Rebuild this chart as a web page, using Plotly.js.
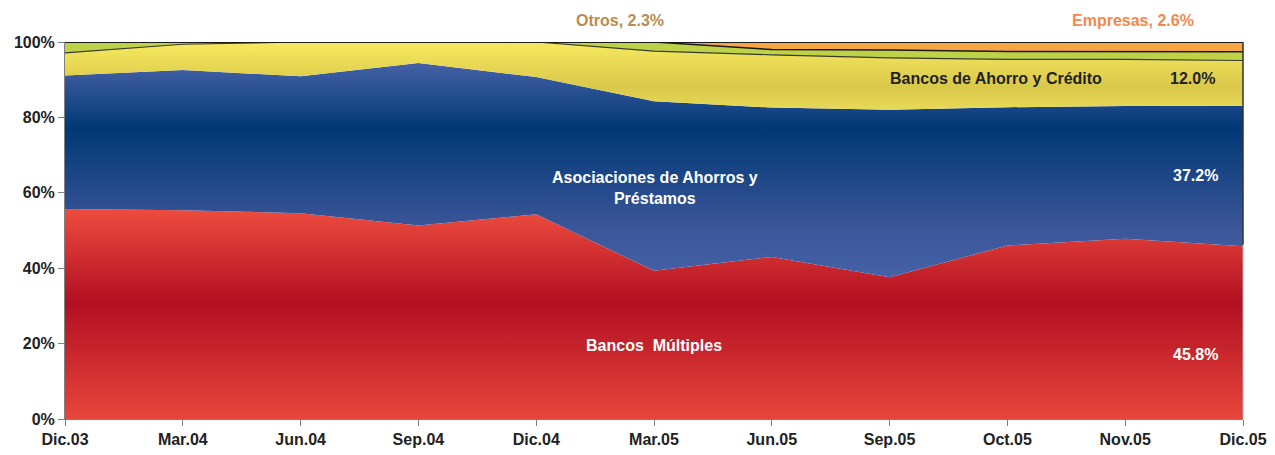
<!DOCTYPE html>
<html>
<head>
<meta charset="utf-8">
<script src="https://cdn.plot.ly/plotly-3.0.1.min.js"></script>
<style>
  html, body { margin: 0; padding: 0; background: #fff; }
  #chart { width: 1275px; height: 455px; }
</style>
</head>
<body>
<div id="chart"></div>
<script>
// periodos (eje x)
let periodos = ['Dic.03', 'Mar.04', 'Jun.04', 'Sep.04', 'Dic.04', 'Mar.05',
                'Jun.05', 'Sep.05', 'Oct.05', 'Nov.05', 'Dic.05'];

// participación por tipo de entidad (%)
let bancosMultiples = [55.7, 55.4, 54.6, 51.3, 54.3, 39.3, 43.0, 37.6, 46.0, 47.8, 45.8];
let asociaciones    = [35.4, 37.2, 36.3, 43.1, 36.4, 45.0, 39.6, 44.4, 36.7, 35.2, 37.2];
let bancosAhorro    = [6.0, 6.8, 9.1, 5.6, 9.3, 13.3, 14.0, 13.8, 12.7, 12.4, 12.0];
let otros           = [2.9, 0.6, 0.0, 0.0, 0.0, 2.4, 1.4, 2.1, 2.1, 2.1, 2.3];
let empresas        = [0.0, 0.0, 0.0, 0.0, 0.0, 0.0, 2.0, 2.1, 2.5, 2.5, 2.6];

// eje y
let yTicks = [0, 20, 40, 60, 80, 100];
let yTickText = ['0%', '20%', '40%', '60%', '80%', '100%'];

let fuente = 'Liberation Sans, Arial, sans-serif';

let serieBM = {
  x: periodos,
  y: bancosMultiples,
  name: 'Bancos Múltiples',
  type: 'scatter',
  mode: 'lines',
  stackgroup: 'uno',
  groupnorm: 'percent',
  line: { width: 0, color: '#d93b35' },
  fillgradient: {
    type: 'vertical',
    start: 0,
    stop: 56,
    colorscale: [[0, '#e6463b'], [0.55, '#b20f22'], [1, '#ee4d3f']]
  }
};

let serieAP = {
  x: periodos,
  y: asociaciones,
  name: 'Asociaciones de Ahorros y Préstamos',
  type: 'scatter',
  mode: 'lines',
  stackgroup: 'uno',
  line: { width: 0, color: '#3a5598' },
  fillgradient: {
    type: 'vertical',
    start: 37,
    stop: 95,
    colorscale: [[0, '#4662a8'], [0.25, '#3a5598'], [0.69, '#003876'], [1, '#4863a8']]
  }
};

let serieBAC = {
  x: periodos,
  y: bancosAhorro,
  name: 'Bancos de Ahorro y Crédito',
  type: 'scatter',
  mode: 'lines',
  stackgroup: 'uno',
  line: { width: 1.2, color: '#3a3a2a' },
  fillgradient: {
    type: 'vertical',
    start: 82,
    stop: 100,
    colorscale: [[0, '#e8d957'], [0.33, '#d9c84a'], [1, '#f7e95f']]
  }
};

let serieOtros = {
  x: periodos,
  y: otros,
  name: 'Otros',
  type: 'scatter',
  mode: 'lines',
  stackgroup: 'uno',
  line: { width: 1.5, color: '#1a1a1a' },
  fillcolor: '#bdd246'
};

let serieEmp = {
  x: periodos,
  y: empresas,
  name: 'Empresas',
  type: 'scatter',
  mode: 'lines',
  stackgroup: 'uno',
  line: { width: 2, color: '#1a1a1a' },
  fillcolor: '#f7a545'
};

let datos = [serieBM, serieAP, serieBAC, serieOtros, serieEmp];

let blanco = { family: fuente, size: 16, color: '#ffffff', weight: 'bold' };
let oscuro = { family: fuente, size: 16, color: '#222222', weight: 'bold' };

// etiquetas de texto sobre el gráfico
function etiqueta(texto, x, y, font) {
  return {
    text: texto, xref: 'paper', yref: 'paper', x: x, y: y,
    xanchor: 'center', yanchor: 'middle', align: 'center',
    showarrow: false, font: font
  };
}

let layout = {
  width: 1275,
  height: 455,
  margin: { l: 65, r: 32, t: 42, b: 36 },
  paper_bgcolor: '#ffffff',
  plot_bgcolor: '#ffffff',
  showlegend: false,
  hovermode: false,
  font: { family: fuente, size: 16, color: '#222222', weight: 'bold' },
  xaxis: {
    type: 'category',
    range: [0, periodos.length - 1],
    showgrid: false,
    zeroline: false,
    showline: true,
    linecolor: '#808080',
    linewidth: 1,
    ticks: 'outside',
    ticklen: 6,
    tickcolor: '#808080',
    tickfont: { family: fuente, size: 16, color: '#222222', weight: 'bold' }
  },
  yaxis: {
    range: [0, 100],
    tickmode: 'array',
    tickvals: yTicks,
    ticktext: yTickText,
    showgrid: false,
    zeroline: false,
    showline: true,
    linecolor: '#808080',
    linewidth: 1,
    ticks: 'outside',
    ticklen: 6,
    tickcolor: '#808080',
    tickfont: { family: fuente, size: 16, color: '#222222', weight: 'bold' }
  },
  shapes: [
    // borde derecho oscuro en la parte superior
    { type: 'line', xref: 'paper', yref: 'paper', x0: 1, x1: 1, y0: 0.462, y1: 1,
      line: { color: '#333333', width: 1.5 } },
    { type: 'line', xref: 'paper', yref: 'paper', x0: 1, x1: 1, y0: 0, y1: 0.462,
      line: { color: '#b0b0b0', width: 1 } }
  ],
  annotations: [
    etiqueta('Otros, 2.3%', 0.471, 1.058, { family: fuente, size: 16, color: '#bc8b4f', weight: 'bold' }),
    etiqueta('Empresas, 2.6%', 0.9066, 1.058, { family: fuente, size: 16, color: '#f4874b', weight: 'bold' }),
    etiqueta('Bancos de Ahorro y Crédito', 0.790, 0.902, oscuro),
    etiqueta('12.0%', 0.957, 0.902, oscuro),
    etiqueta('Asociaciones de Ahorros y<br>Préstamos', 0.501, 0.614, blanco),
    etiqueta('37.2%', 0.960, 0.647, blanco),
    etiqueta('Bancos  Múltiples', 0.500, 0.194, blanco),
    etiqueta('45.8%', 0.960, 0.170, blanco)
  ]
};

Plotly.newPlot('chart', datos, layout, { displayModeBar: false, staticPlot: true });
</script>
</body>
</html>
